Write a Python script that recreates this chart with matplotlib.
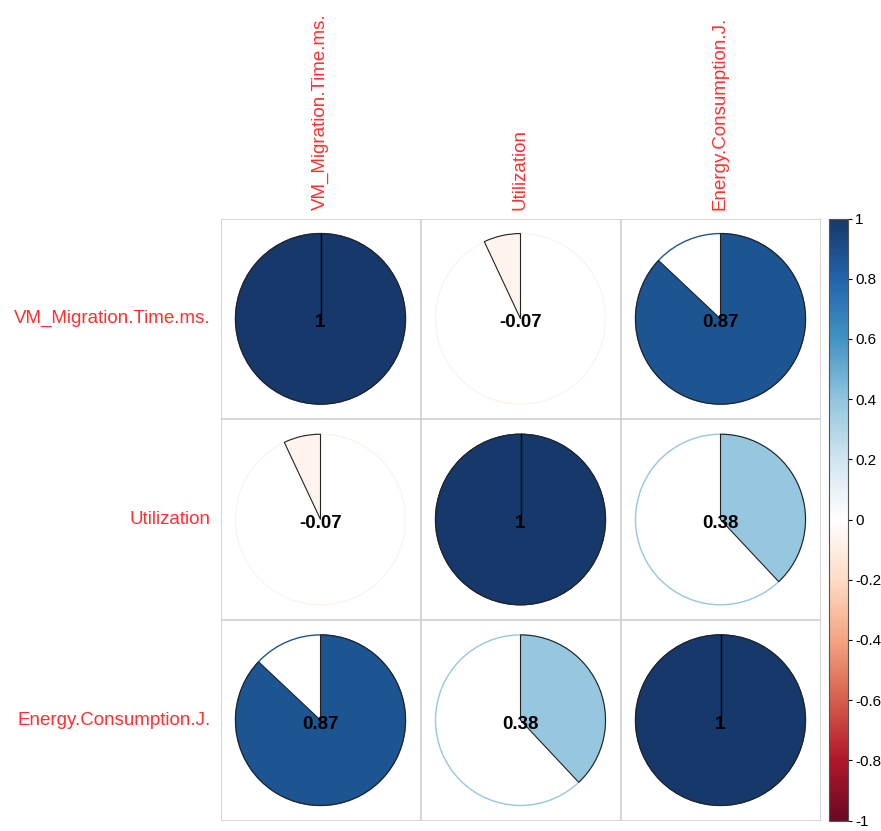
import numpy as np
import matplotlib
matplotlib.use("Agg")
import matplotlib.pyplot as plt
from matplotlib.patches import Wedge, Circle
from matplotlib.colors import LinearSegmentedColormap, Normalize
from matplotlib.colorbar import ColorbarBase

plt.rcParams["font.family"] = ["Liberation Sans", "DejaVu Sans"]

# ── Data ──────────────────────────────────────────
variables = ["VM_Migration.Time.ms.", "Utilization", "Energy.Consumption.J."]
corr = [
    [1.00, -0.07, 0.87],
    [-0.07, 1.00, 0.38],
    [0.87, 0.38, 1.00],
]
cbar_ticks = [-1, -0.8, -0.6, -0.4, -0.2, 0, 0.2, 0.4, 0.6, 0.8, 1]

# corrplot RdBu palette (dark ends slightly lifted to match the picture)
rdbu = ["#6A0A23", "#B2182B", "#D6604D", "#F4A582", "#FDDBC7", "#FFFFFF",
        "#D1E5F0", "#92C5DE", "#4393C3", "#2166AC", "#17386A"]
cmap = LinearSegmentedColormap.from_list("corr_rdbu", rdbu, N=200)
norm = Normalize(-1, 1)

W, H = 881, 831
fig = plt.figure(figsize=(W / 100, H / 100), dpi=100)

# grid area in pixel coordinates
gx0, gx1, gy0, gy1 = 220.5, 820.5, 218.5, 820.5
ax = fig.add_axes([gx0 / W, 1 - gy1 / H, (gx1 - gx0) / W, (gy1 - gy0) / H])
n = len(variables)
ax.set_xlim(0, n)
ax.set_ylim(n, 0)
ax.axis("off")

grid_col = "#CCCCCC"
for k in range(n + 1):
    ax.plot([k, k], [0, n], color=grid_col, lw=1.1, solid_capstyle="butt")
    ax.plot([0, n], [k, k], color=grid_col, lw=1.1, solid_capstyle="butt")

R = 0.425
for i in range(n):
    for j in range(n):
        r = corr[i][j]
        col = cmap(norm(r))
        cx, cy = j + 0.5, i + 0.5
        # outer circle in value colour
        ax.add_patch(Circle((cx, cy), R, facecolor="white", edgecolor=col,
                            lw=1.0, zorder=2))
        # wedge: positive clockwise, negative counter-clockwise (y axis flipped)
        ang = 360 * abs(r)
        if r >= 0:
            t1, t2 = 270, 270 + ang
        else:
            t1, t2 = 270 - ang, 270
        ax.add_patch(Wedge((cx, cy), R, t1, t2, facecolor=col,
                           edgecolor="#222222", lw=0.8, zorder=3))
        if abs(r) >= 1:
            ax.plot([cx, cx], [cy, cy - R], color="black", lw=1.0, zorder=4)
        label = f"{r:.2f}".rstrip("0").rstrip(".") if abs(r) < 1 else "1"
        ax.text(cx, cy + 0.02, label, ha="center", va="center",
                fontsize=13.5, fontweight="bold", color="black", zorder=5)

# row / column labels
red = "#FF3030"
for k, name in enumerate(variables):
    ax.text(-0.05, k + 0.5, name, ha="right", va="center",
            fontsize=13.5, color=red)
    ax.text(k + 0.5, -0.04, name, ha="center", va="bottom",
            rotation=90, fontsize=13.5, color=red)

# colour legend
cx0, cx1 = 829, 848
cax = fig.add_axes([cx0 / W, 1 - gy1 / H, (cx1 - cx0) / W, (gy1 - gy0) / H])
cb = ColorbarBase(cax, cmap=cmap, norm=norm, ticks=cbar_ticks)
cb.outline.set_edgecolor("#555555")
cb.outline.set_linewidth(0.8)
cb.ax.set_yticklabels([f"{t:g}" for t in cbar_ticks])
cb.ax.tick_params(labelsize=11, length=3, width=0.8, pad=2)

fig.savefig("out.png", dpi=100, facecolor="white")
